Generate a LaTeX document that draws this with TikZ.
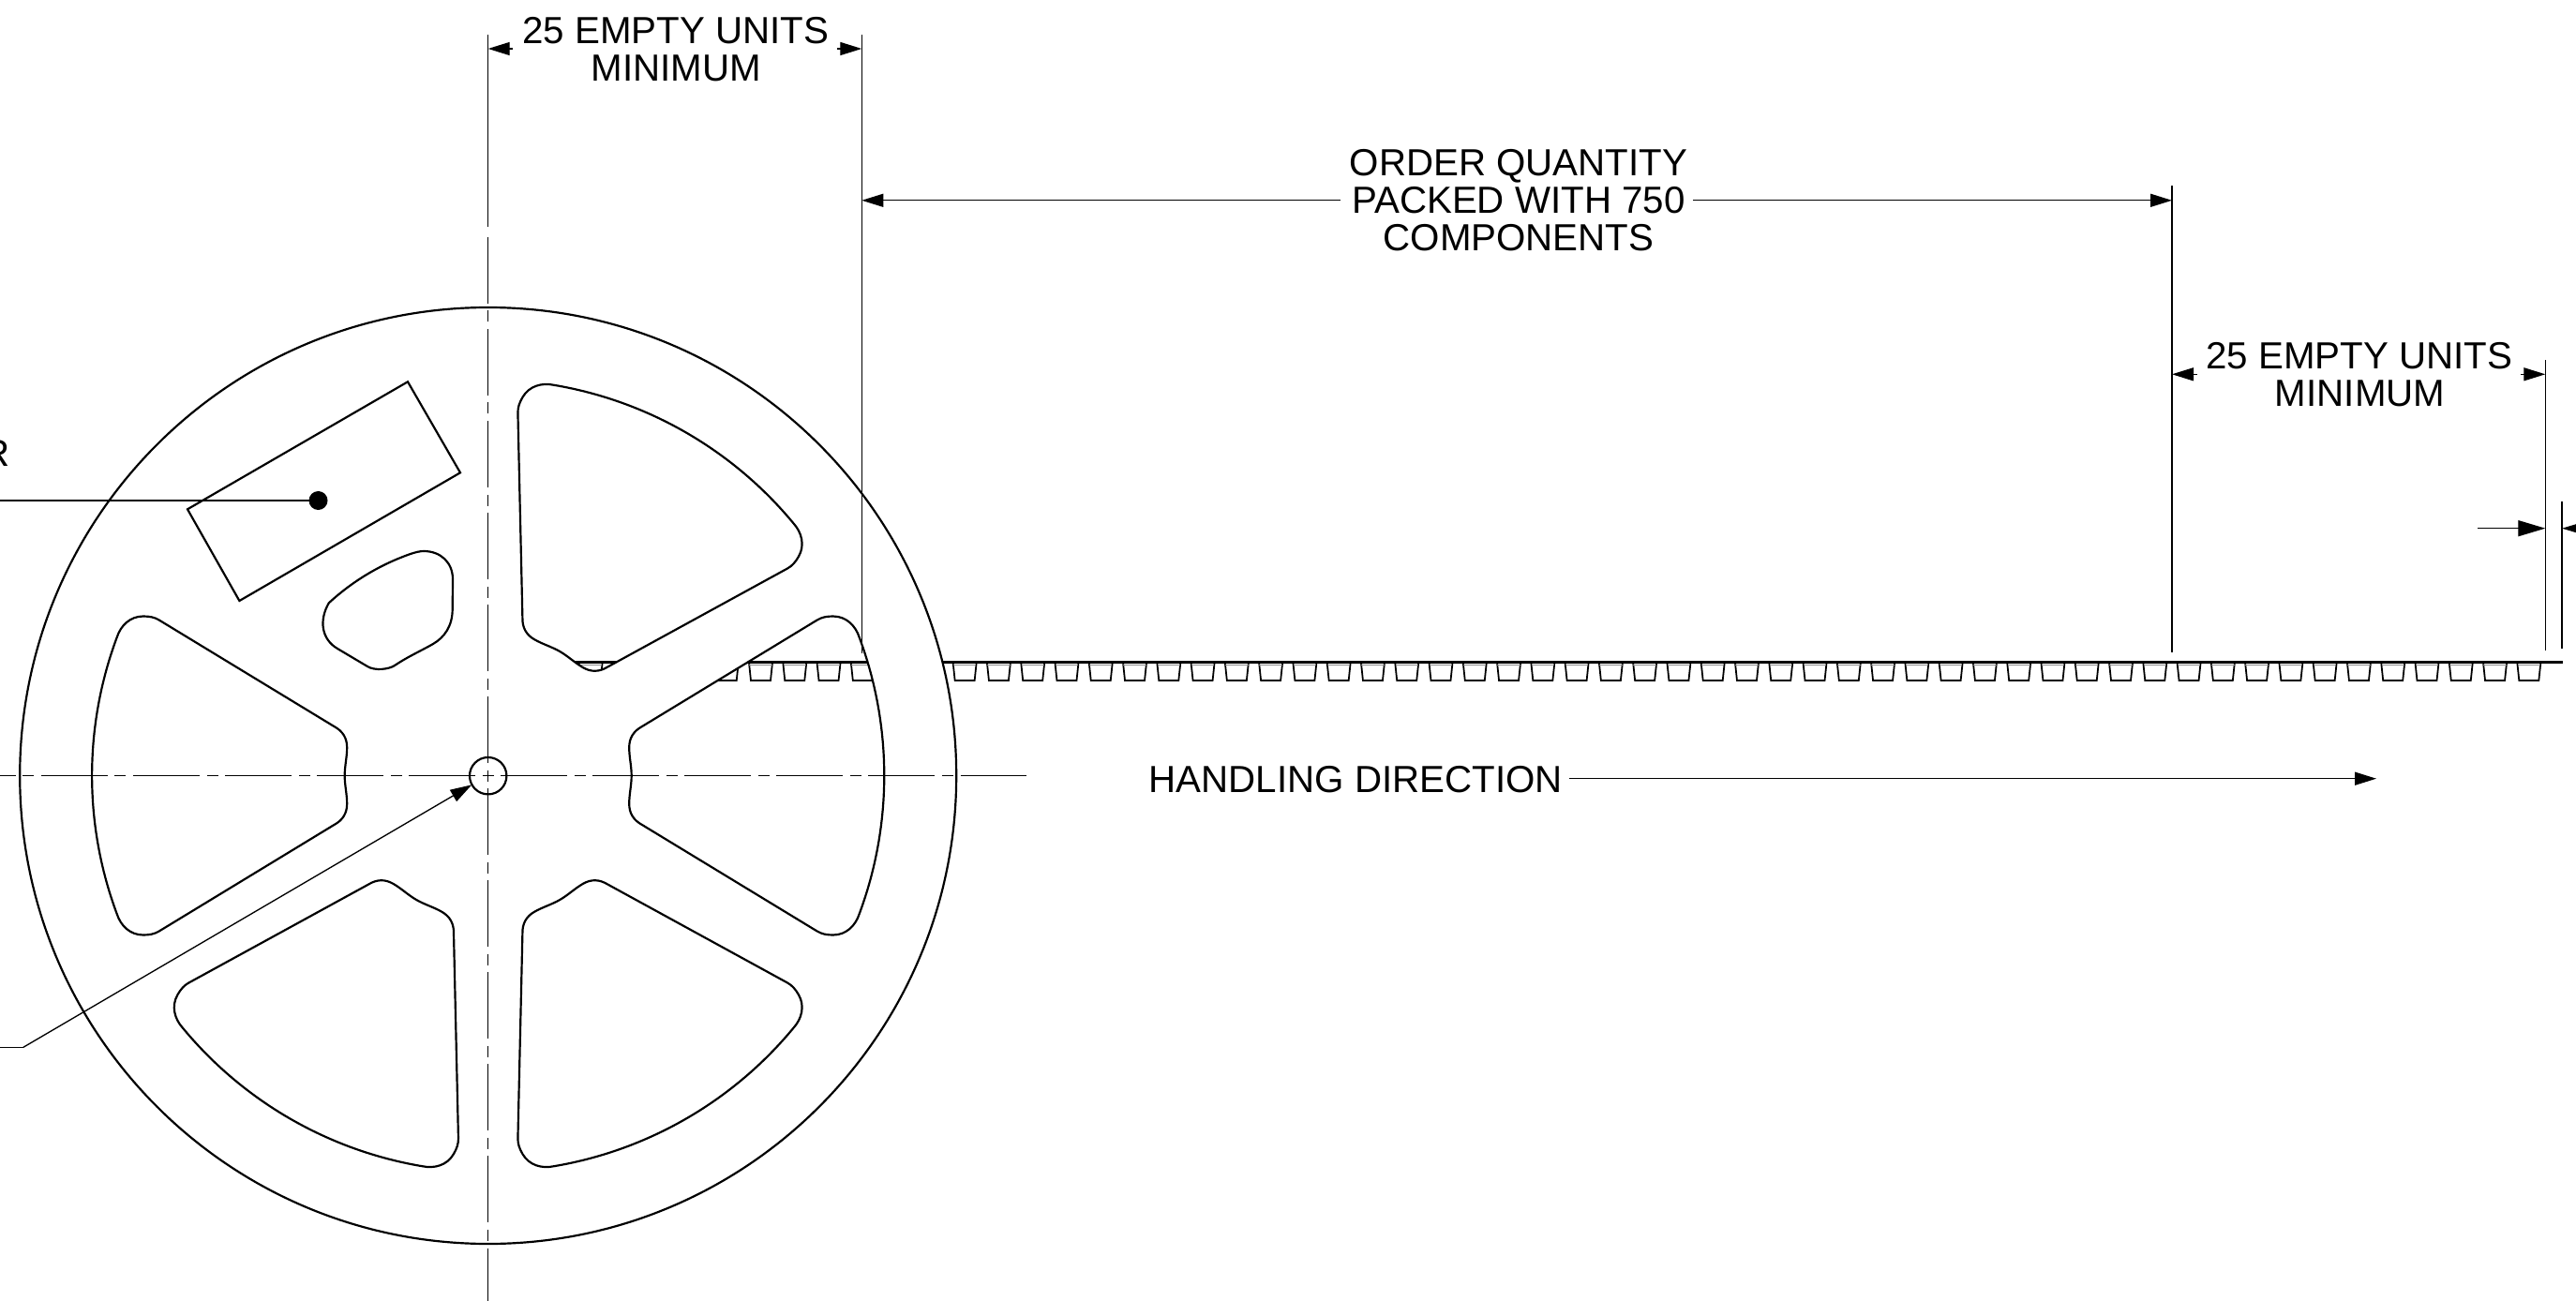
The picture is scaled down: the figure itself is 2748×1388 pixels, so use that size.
\documentclass[tikz,border=0pt]{standalone}
\usepackage{fontspec}
\setmainfont{Liberation Sans}
\usetikzlibrary{arrows.meta}
\newcommand{\winpath}{(153,0) .. controls (153,10) and (150.5,20) .. (150.5,30) .. controls (150.5,40) and (155,47.5) .. (164.3,52.5) -- (351,166) .. controls (356,169) and (361,170) .. (368,170) .. controls (382,170) and (392,160) .. (396,147.5) arc (20.43:-20.43:422.6) .. controls (392,-160) and (382,-170) .. (368,-170) .. controls (361,-170) and (356,-169) .. (351,-166) -- (164.3,-52.5) .. controls (155,-47.5) and (150.5,-40) .. (150.5,-30) .. controls (150.5,-20) and (153,-10) .. (153,0) -- cycle}
\newcommand{\smallpath}{(350.8,-643.3) arc (132.7:109.2:250.5) .. controls (444,-589) and (448,-588) .. (452,-588) .. controls (470,-588) and (483,-600) .. (483,-618) -- (482.7,-650) .. controls (482.7,-668) and (474,-680) .. (462,-687) .. controls (448,-695) and (436,-700) .. (421,-710) .. controls (415,-714) and (400,-716) .. (392,-711) -- (360,-692) .. controls (343,-682) and (340,-662) .. (350.8,-643.3) -- cycle}
\tikzset{
  outline/.style={line width=0.62pt},
  thinline/.style={line width=0.38pt},
  centreline/.style={line width=0.38pt,dash pattern=on 0.12cm off 0.075cm on 0.71cm off 0.075cm},
  dimarrow/.style={thinline,-{Triangle[length=0.23cm,width=0.14cm]}},
  bigarrow/.style={thinline,-{Triangle[length=0.29cm,width=0.17cm]}},
  label/.style={inner sep=0pt,font=\fontsize{11.46pt}{11.46pt}\selectfont,align=center,anchor=base},
  pocket/.style={line width=0.5pt}
}
\begin{document}
\begin{tikzpicture}[x=0.01cm,y=0.01cm]
\useasboundingbox (0,0) rectangle (2748,-1388);
\clip (0,0) rectangle (2748,-1388);
\fill[white] (0,0) rectangle (2748,-1388);
% tape
\coordinate (tapeS) at (590,-706.7);
\coordinate (tapeE) at (2734,-706.7);
\draw[line width=0.8pt] (tapeS) -- (tapeE);
\foreach \k in {-5,...,52}{
  \pgfmathsetmacro{\xa}{799+36.275*\k}
  \draw[pocket] (\xa,-707) -- (\xa+2,-726) -- (\xa+23,-726) -- (\xa+25,-707);
  \draw[black!45,line width=0.35pt] (\xa+0.3,-709.8) -- (\xa+24.7,-709.8);
}
% reel
\begin{scope}[shift={(520.7,-827.5)}]
  \fill[white,even odd rule] (0,0) circle (499.5)
     {[rotate=0] \winpath} {[rotate=60] \winpath} {[rotate=180] \winpath}
     {[rotate=240] \winpath} {[rotate=300] \winpath};
  \draw[outline] (0,0) circle (499.5);
  \foreach \a in {0,60,180,240,300}{
    \draw[outline,rotate=\a] \winpath;
  }
\end{scope}
\draw[outline] \smallpath;
\draw[outline] (435,-407.3) -- (491,-504.3) -- (255.4,-641) -- (200,-543.3) -- cycle;
% centre lines
\coordinate (cE) at (514.7,-827.7);
\coordinate (cW) at (526.7,-827.7);
\coordinate (cN) at (520.7,-833.7);
\coordinate (cS) at (520.7,-821.7);
\coordinate (hE) at (1095,-827.7);
\coordinate (hW) at (0,-827.7);
\coordinate (vN) at (520.7,-253);
\coordinate (vS) at (520.7,-1388);
\draw[centreline] (cE) -- (hE);
\draw[centreline] (cW) -- (hW);
\draw[centreline] (cN) -- (vN);
\draw[centreline] (cS) -- (vS);
\node[draw,outline,circle,minimum size=0.394cm,inner sep=0pt] (hub) at (520.7,-827.7) {};
% extension lines
\coordinate (e1a) at (520.7,-37);
\coordinate (e1b) at (520.7,-242);
\coordinate (e2a) at (919.3,-37);
\coordinate (e2b) at (919.3,-697);
\coordinate (e3a) at (2317,-198);
\coordinate (e3b) at (2317,-696);
\coordinate (e4a) at (2715.3,-384);
\coordinate (e4b) at (2715.3,-694);
\coordinate (e5a) at (2733,-535);
\coordinate (e5b) at (2733,-692);
\foreach \p/\q in {e1a/e1b,e2a/e2b,e3a/e3b,e4a/e4b,e5a/e5b}{\draw[thinline] (\p) -- (\q);}
% top dimension
\node[label] (t1) at (720.8,-46.7) {25 EMPTY UNITS};
\node[label] (t1b) at (721.5,-86.7) {MINIMUM};
\coordinate (a1t) at (546.7,-52);
\coordinate (a1h) at (520.7,-52);
\coordinate (a2t) at (892.7,-52);
\coordinate (a2h) at (919.3,-52);
\draw[dimarrow] (a1t) -- (a1h);
\draw[dimarrow] (a2t) -- (a2h);
% order quantity
\node[label] (q1) at (1620,-188) {ORDER QUANTITY};
\node[label] (q2) at (1620,-228) {PACKED WITH 750};
\node[label] (q3) at (1620,-268) {COMPONENTS};
\coordinate (b1t) at (1430,-213.8);
\coordinate (b1h) at (919.3,-213.8);
\coordinate (b2t) at (1806,-213.8);
\coordinate (b2h) at (2317,-213.8);
\draw[dimarrow] (b1t) -- (b1h);
\draw[dimarrow] (b2t) -- (b2h);
% right dimension
\node[label] (r1) at (2517,-393.3) {25 EMPTY UNITS};
\node[label] (r1b) at (2517.6,-433.3) {MINIMUM};
\coordinate (c1t) at (2344,-399.3);
\coordinate (c1h) at (2317,-399.3);
\coordinate (c2t) at (2689,-399.3);
\coordinate (c2h) at (2715.3,-399.3);
\draw[dimarrow] (c1t) -- (c1h);
\draw[dimarrow] (c2t) -- (c2h);
% pitch arrows
\coordinate (d1t) at (2643,-563.7);
\coordinate (d1h) at (2715.3,-563.7);
\coordinate (d2t) at (2810,-563.7);
\coordinate (d2h) at (2733,-563.7);
\draw[bigarrow] (d1t) -- (d1h);
\draw[bigarrow] (d2t) -- (d2h);
% handling direction
\node[label,anchor=base west] (hd) at (1225,-845) {HANDLING DIRECTION};
\coordinate (hdt) at (1674,-830.7);
\coordinate (hdh) at (2535,-830.7);
\draw[dimarrow] (hdt) -- (hdh);
% leaders
\node[label,anchor=base east] (rr) at (11,-497) {R};
\coordinate (l1s) at (0,-534);
\node[circle,fill=black,inner sep=0pt,minimum size=0.2cm] (dot) at (339.5,-534) {};
\draw[thinline] (l1s) -- (dot.center);
\coordinate (l2s) at (0,-1117.3);
\coordinate (l2m) at (24.9,-1117.3);
\coordinate (l2h) at (503.3,-837.3);
\draw[thinline] (l2s) -- (l2m);
\draw[dimarrow] (l2m) -- (l2h);
\end{tikzpicture}
\end{document}
